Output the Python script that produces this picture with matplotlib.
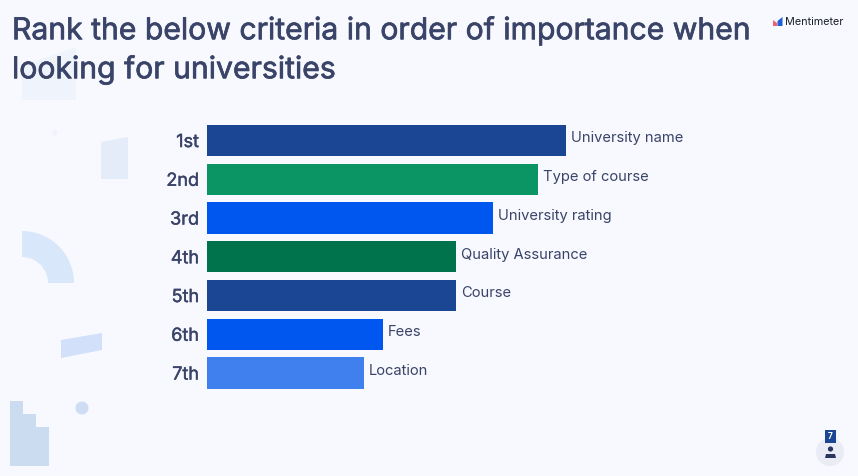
import matplotlib
matplotlib.use("Agg")
import matplotlib.pyplot as plt
import matplotlib.patheffects as pe
from matplotlib.patches import Circle, Polygon, Wedge

ranks = ["1st", "2nd", "3rd", "4th", "5th", "6th", "7th"]
criteria = ["University name", "Type of course", "University rating",
            "Quality Assurance", "Course", "Fees", "Location"]
scores = [100, 92.2, 79.7, 69.4, 69.4, 49.0, 43.7]
colors = ["#1a4693", "#0b9565", "#0057f0", "#00734c", "#1a4693", "#0057f0", "#3f80ee"]

W, H = 858, 476
BG = "#f7f9fe"
TEXT = "#3a4468"

plt.rcParams["font.family"] = ["Inter", "DejaVu Sans"]

fig = plt.figure(figsize=(W / 100, H / 100), dpi=100, facecolor=BG)

# full figure axes in pixels, for the decoration and the page text
bg = fig.add_axes([0, 0, 1, 1])
bg.set_xlim(0, W)
bg.set_ylim(H, 0)
bg.axis("off")

bg.add_patch(Polygon([(22, 66), (76, 47), (76, 100), (22, 100)], fc="#eff4fc", ec="none"))
bg.add_patch(Polygon([(101, 142), (128, 137), (128, 179), (101, 179)], fc="#e4ecf9", ec="none"))
bg.add_patch(Circle((55, 133), 2.5, fc="#eff2fb", ec="none"))
bg.add_patch(Wedge((22, 283), 52, 270, 360, width=26, fc="#d9e7fb", ec="none"))
bg.add_patch(Polygon([(61, 340), (102, 333), (102, 350), (61, 358)], fc="#d2e0f9", ec="none"))
bg.add_patch(Circle((82, 408), 6.5, fc="#cfdcf6", ec="none"))
bg.add_patch(Polygon([(10, 401), (23, 401), (23, 414), (36, 414), (36, 427), (49, 427),
                      (49, 466), (10, 466)], fc="#cbdbf0", ec="none"))

# title, slightly thickened to reach the reference weight
thick = [pe.withStroke(linewidth=0.5, foreground=TEXT)]
bg.text(12, 31, "Rank the below criteria in order of importance when", fontsize=21.7,
        color=TEXT, va="center", ha="left", path_effects=thick)
bg.text(12, 70, "looking for universities", fontsize=21.7,
        color=TEXT, va="center", ha="left", path_effects=thick)

# logo
bg.add_patch(Polygon([(773, 26), (773, 20), (777, 23), (777, 26)], fc="#f0616d", ec="none"))
bg.add_patch(Polygon([(777.5, 26), (777.5, 21), (782.5, 17), (782.5, 26)], fc="#1f5fd8", ec="none"))
bg.text(785, 22, "Mentimeter", fontsize=7.8, color="#1c1e2b", va="center", ha="left")

# participant counter
bg.add_patch(Circle((830, 452), 14, fc="#e9ecf4", ec="none"))
bg.add_patch(Polygon([(825, 430), (836, 430), (836, 443), (825, 443)], fc="#1a4693", ec="none"))
bg.text(830.5, 436.5, "7", fontsize=6, color="white", va="center", ha="center", fontweight="bold")
bg.add_patch(Circle((830.5, 449), 2.6, fc="#2a3560", ec="none"))
bg.add_patch(Polygon([(825, 458), (826, 454), (835, 454), (836, 458)], fc="#2a3560", ec="none"))

# bars
ax = fig.add_axes([207 / W, 1 - 393.6 / H, 359 / W, 273.6 / H])
ax.patch.set_alpha(0)
y = range(len(ranks))
ax.barh(y, scores, height=0.81, color=colors)
ax.set_xlim(0, 100)
ax.set_ylim(6.53, -0.53)
ax.set_yticks(list(y))
ax.set_yticklabels(ranks, fontsize=13, color=TEXT)
for lab in ax.get_yticklabels():
    lab.set_path_effects([pe.withStroke(linewidth=0.3, foreground=TEXT)])
ax.tick_params(axis="y", length=0, pad=5.8)
ax.set_xticks([])
for s in ax.spines.values():
    s.set_visible(False)

for i, (v, name) in enumerate(zip(scores, criteria)):
    ax.annotate(name, (v, i), xytext=(3.6, 1.5), textcoords="offset points",
                va="center", ha="left", fontsize=10.6, color=TEXT, annotation_clip=False)

fig.savefig("out.png", dpi=100, facecolor=BG)
